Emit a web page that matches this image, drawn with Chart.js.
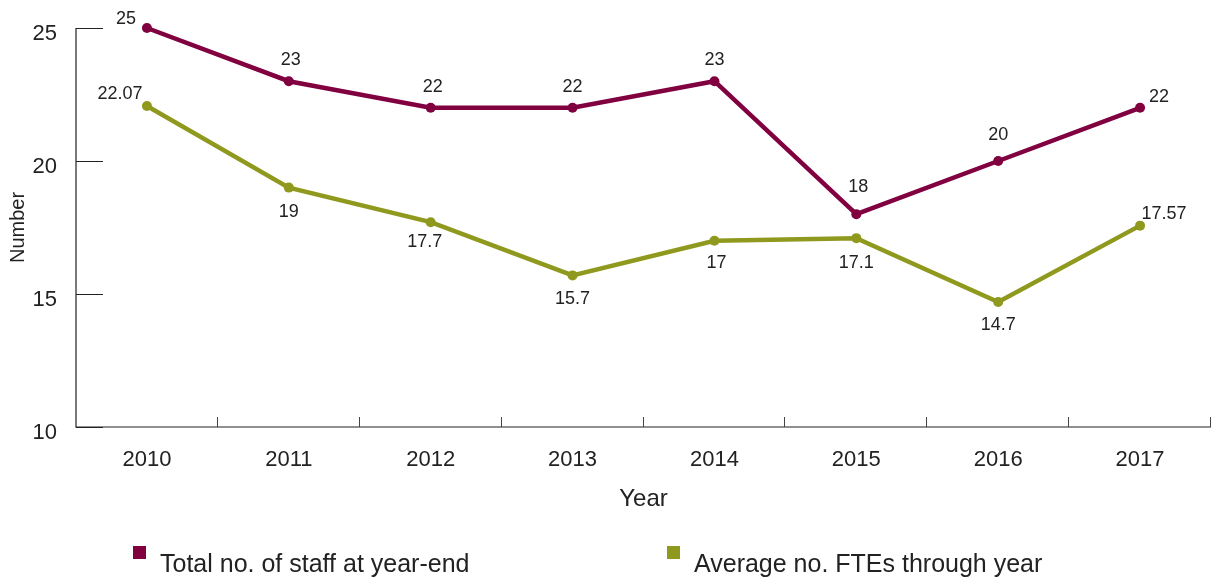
<!DOCTYPE html>
<html lang="en">
<head>
    <meta charset="UTF-8">
    <title>Staff numbers</title>
    <script src="https://cdn.jsdelivr.net/npm/chart.js"></script>
    <style>
        body {
            margin: 0;
            background-color: #fff;
            font-family: "Liberation Sans", Arial, sans-serif;
        }
        .wrap {
            position: relative;
            width: 1211px;
            height: 581px;
            overflow: hidden;
        }
        .legend-item {
            position: absolute;
            top: 546px;
            font-size: 25px;
            color: #222;
            line-height: 34px;
            white-space: nowrap;
        }
        .legend-item span {
            display: inline-block;
            width: 13px;
            height: 13px;
            margin-right: 14px;
            vertical-align: 13px;
        }
    </style>
</head>
<body>

    <div class="wrap">
        <canvas id="myChart" width="1211" height="581"></canvas>
        <div class="legend-item" style="left:133px"><span style="background:#800040"></span>Total no. of staff at year-end</div>
        <div class="legend-item" style="left:667px"><span style="background:#8f991e"></span>Average no. FTEs through year</div>
    </div>

    <script>
        // Data
        const years = ['2010', '2011', '2012', '2013', '2014', '2015', '2016', '2017'];
        const totalStaff = [25, 23, 22, 22, 23, 18, 20, 22];
        const avgFTEs = [22.07, 19, 17.7, 15.7, 17, 17.1, 14.7, 17.57];
        const yTicks = [10, 15, 20, 25];

        // Label placement around each point: [dx, dy]
        const staffLabelPos = [[-21, -9], [2, -21], [2, -21], [0, -21], [0, -21], [2, -27], [0, -26], [19, -11]];
        const fteLabelPos = [[-27, -12], [0, 24], [-6, 20], [0, 24], [2, 22], [0, 25], [0, 23], [24, -12]];

        const maroon = '#800040';
        const olive = '#8f991e';
        const fontFamily = '"Liberation Sans", Arial, sans-serif';

        // Axis lines and inward tick marks
        const axisPlugin = {
            id: 'axisLines',
            afterDatasetsDraw(chart) {
                const ctx = chart.ctx;
                const x = chart.scales.x;
                const y = chart.scales.y;
                const area = chart.chartArea;
                ctx.save();
                ctx.strokeStyle = '#222';
                ctx.lineWidth = 1.2;
                ctx.beginPath();
                ctx.moveTo(area.left, area.top);
                ctx.lineTo(area.left, area.bottom);
                ctx.lineTo(area.right, area.bottom);
                yTicks.forEach(v => {
                    const py = Math.round(y.getPixelForValue(v)) + 0.5;
                    ctx.moveTo(area.left, py);
                    ctx.lineTo(area.left + 27, py);
                });
                ctx.stroke();
                ctx.strokeStyle = '#444';
                ctx.lineWidth = 1;
                ctx.beginPath();
                for (let i = 1; i <= years.length; i++) {
                    const px = Math.round(x.getPixelForValue(i - 0.5)) - 0.5;
                    ctx.moveTo(px, area.bottom);
                    ctx.lineTo(px, area.bottom - 10);
                }
                ctx.stroke();
                ctx.restore();
            }
        };

        // Value labels next to each point
        const labelPlugin = {
            id: 'pointLabels',
            afterDatasetsDraw(chart) {
                const ctx = chart.ctx;
                const positions = [staffLabelPos, fteLabelPos];
                ctx.save();
                ctx.font = '18px ' + fontFamily;
                ctx.fillStyle = '#222';
                ctx.textAlign = 'center';
                ctx.textBaseline = 'middle';
                chart.data.datasets.forEach((ds, d) => {
                    chart.getDatasetMeta(d).data.forEach((pt, i) => {
                        const [dx, dy] = positions[d][i];
                        ctx.fillText(String(ds.data[i]), pt.x + dx, pt.y + dy);
                    });
                });
                ctx.restore();
            }
        };

        const ctx = document.getElementById('myChart').getContext('2d');
        new Chart(ctx, {
            type: 'line',
            data: {
                labels: years,
                datasets: [{
                    label: 'Total no. of staff at year-end',
                    data: totalStaff,
                    borderColor: maroon,
                    backgroundColor: maroon,
                    borderWidth: 4.5,
                    pointRadius: 5,
                    pointBorderWidth: 0,
                    tension: 0,
                    clip: false
                }, {
                    label: 'Average no. FTEs through year',
                    data: avgFTEs,
                    borderColor: olive,
                    backgroundColor: olive,
                    borderWidth: 4.5,
                    pointRadius: 5,
                    pointBorderWidth: 0,
                    tension: 0,
                    clip: false
                }]
            },
            options: {
                responsive: false,
                animation: false,
                layout: {
                    autoPadding: false,
                    padding: { top: 28, right: 0, bottom: 54, left: 0 }
                },
                plugins: {
                    legend: { display: false },
                    tooltip: { enabled: false }
                },
                scales: {
                    x: {
                        offset: true,
                        border: { display: false },
                        grid: { display: false, drawTicks: false },
                        ticks: {
                            color: '#222',
                            padding: 20,
                            maxRotation: 0,
                            font: { family: fontFamily, size: 22 }
                        },
                        title: {
                            display: true,
                            text: 'Year',
                            color: '#222',
                            padding: { top: 4, bottom: 13 },
                            font: { family: fontFamily, size: 24 }
                        },
                        afterFit(scale) {
                            scale.height = 100;
                            scale.paddingLeft = 0;
                            scale.paddingRight = 0;
                        }
                    },
                    y: {
                        min: 10,
                        max: 25,
                        border: { display: false },
                        grid: { display: false, drawTicks: false },
                        afterBuildTicks(scale) {
                            scale.ticks = yTicks.map(v => ({ value: v }));
                        },
                        ticks: {
                            color: '#222',
                            padding: 19,
                            labelOffset: 6,
                            font: { family: fontFamily, size: 22 }
                        },
                        title: {
                            display: true,
                            text: 'Number',
                            color: '#222',
                            padding: { top: 6, bottom: 4 },
                            font: { family: fontFamily, size: 20 }
                        },
                        afterFit(scale) {
                            scale.width = 76;
                            scale.paddingTop = 0;
                            scale.paddingBottom = 0;
                        }
                    }
                }
            },
            plugins: [axisPlugin, labelPlugin]
        });
    </script>
</body>
</html>
